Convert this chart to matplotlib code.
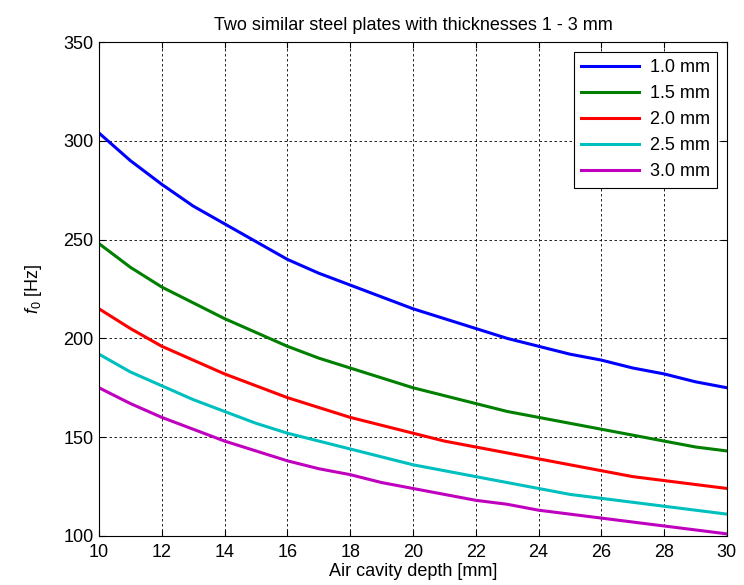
import numpy as np
import matplotlib
matplotlib.use('Agg')
import matplotlib.pyplot as plt

plt.rcParams['font.family'] = ['Liberation Sans', 'DejaVu Sans']
plt.rcParams['mathtext.fontset'] = 'custom'
plt.rcParams['mathtext.rm'] = 'Liberation Sans'
plt.rcParams['mathtext.it'] = 'Liberation Sans:italic'

# Data
depth = list(range(10, 31))
f_10 = [304, 290, 278, 267, 258, 249, 240, 233, 227, 221, 215, 210, 205, 200, 196, 192, 189, 185, 182, 178, 175]
f_15 = [248, 236, 226, 218, 210, 203, 196, 190, 185, 180, 175, 171, 167, 163, 160, 157, 154, 151, 148, 145, 143]
f_20 = [215, 205, 196, 189, 182, 176, 170, 165, 160, 156, 152, 148, 145, 142, 139, 136, 133, 130, 128, 126, 124]
f_25 = [192, 183, 176, 169, 163, 157, 152, 148, 144, 140, 136, 133, 130, 127, 124, 121, 119, 117, 115, 113, 111]
f_30 = [175, 167, 160, 154, 148, 143, 138, 134, 131, 127, 124, 121, 118, 116, 113, 111, 109, 107, 105, 103, 101]
labels = ['1.0 mm', '1.5 mm', '2.0 mm', '2.5 mm', '3.0 mm']
colors = ['#0000ff', '#007f00', '#ff0000', '#00bfbf', '#bf00bf']

fs = 13
fig = plt.figure(figsize=(7.44, 5.85), dpi=100)
ax = fig.add_axes([0.133, 0.084, 0.844, 0.844])

for y, lab, c in zip([f_10, f_15, f_20, f_25, f_30], labels, colors):
    ax.plot(depth, y, color=c, linewidth=2.2, label=lab)

ax.set_xlim(10, 30)
ax.set_ylim(100, 350)
ax.set_xticks(np.arange(10, 31, 2))
ax.set_yticks(np.arange(100, 351, 50))
ax.grid(True, color='black', linestyle=(0, (3, 3)), linewidth=0.6)
ax.tick_params(direction='in', top=True, right=True, labelsize=fs, length=4)
ax.tick_params(axis='x', pad=6)
ax.tick_params(axis='y', pad=4)
for s in ax.spines.values():
    s.set_linewidth(0.8)

ax.set_xlabel('Air cavity depth [mm]', fontsize=fs, labelpad=1)
ax.set_ylabel(r'$f_0$ [Hz]', fontsize=fs, labelpad=14)
ax.set_title('Two similar steel plates with thicknesses 1 - 3 mm', fontsize=fs, pad=9)

leg = ax.legend(loc='upper right', fontsize=fs, fancybox=False, framealpha=1,
                edgecolor='black', handlelength=3.2, labelspacing=0.5,
                borderaxespad=0.55, handletextpad=0.6)
leg.get_frame().set_linewidth(0.8)

fig.savefig('out.png', dpi=100)
